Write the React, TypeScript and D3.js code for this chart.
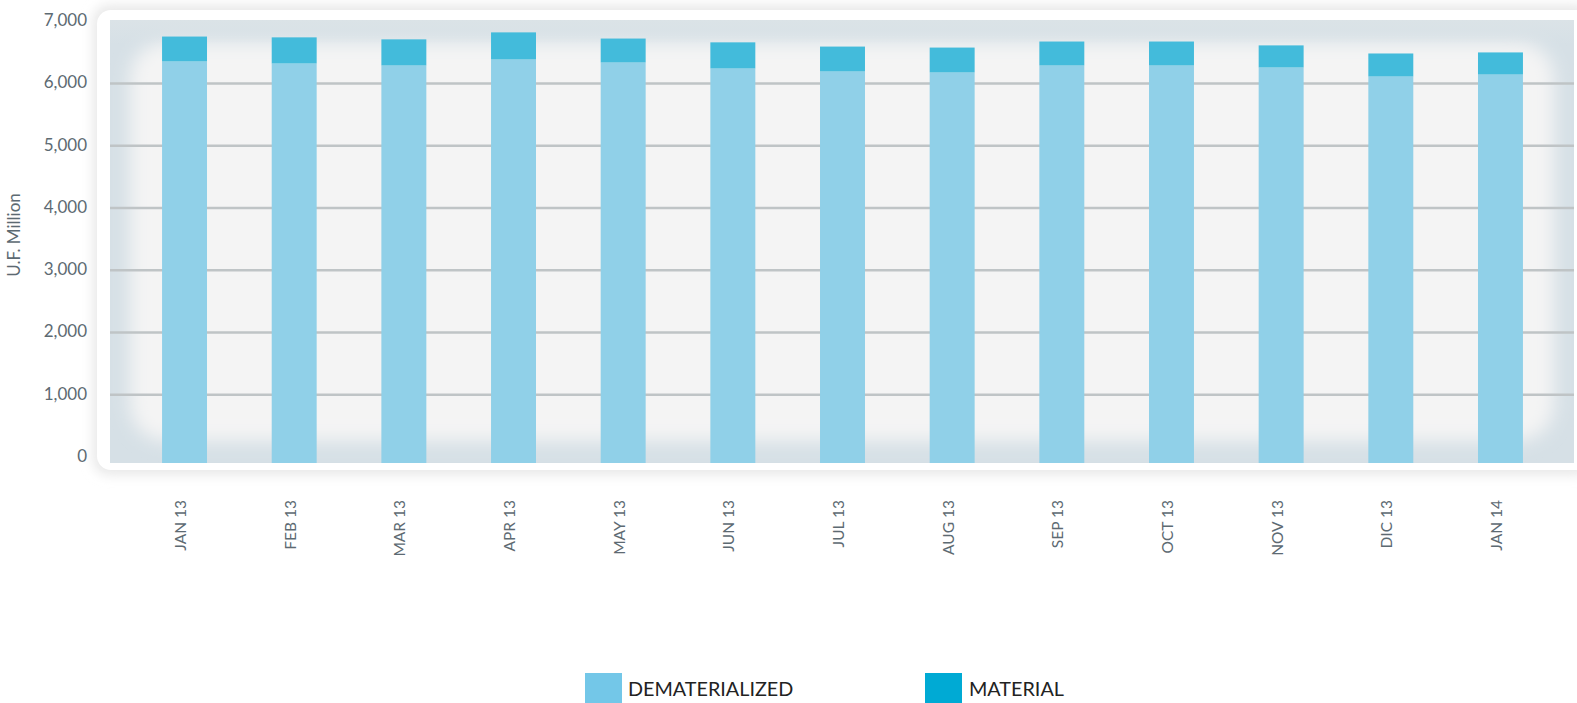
import React from 'react';
import * as d3 from 'd3';

// Months on the x axis
const MONTHS = ['JAN 13', 'FEB 13', 'MAR 13', 'APR 13', 'MAY 13', 'JUN 13', 'JUL 13',
  'AUG 13', 'SEP 13', 'OCT 13', 'NOV 13', 'DIC 13', 'JAN 14'];

// U.F. million
const DEMATERIALIZED = [6355, 6322, 6290, 6387, 6338, 6242, 6194, 6178, 6290, 6290, 6258, 6113, 6145];
const MATERIAL = [400, 420, 420, 435, 385, 420, 400, 400, 385, 385, 355, 370, 355];

const Y_TICKS = [0, 1000, 2000, 3000, 4000, 5000, 6000, 7000];
const LEGEND = ['DEMATERIALIZED', 'MATERIAL'];

const W = 1577;
const H = 703;
const FONT = 'Lato, "Open Sans", sans-serif';

const plot = { left: 110, top: 20, right: 1574, bottom: 463 };

export default function App() {
  const x = d3.scaleBand<string>()
    .domain(MONTHS)
    .range([129.7, 1555.3])
    .paddingInner(0.59)
    .paddingOuter(0.295);

  const y = d3.scaleLinear()
    .domain([0, 7000])
    .range([457, 21.3]);

  const fmt = d3.format(',');

  return (
    <svg width={W} height={H} style={{ position: 'absolute', left: 0, top: 0, background: '#fff' }}>
      <defs>
        <filter id="cardShadow" x="-5%" y="-10%" width="110%" height="120%">
          <feGaussianBlur stdDeviation="6" />
        </filter>
        <filter id="soft" x="-10%" y="-20%" width="120%" height="140%">
          <feGaussianBlur stdDeviation="9" />
        </filter>
        <linearGradient id="topFade" x1="0" y1="0" x2="0" y2="1">
          <stop offset="0%" stopColor="#dbe3e7" />
          <stop offset="100%" stopColor="#dbe3e7" stopOpacity="0" />
        </linearGradient>
        <clipPath id="plotClip">
          <rect x={plot.left} y={plot.top} width={plot.right - plot.left} height={plot.bottom - plot.top} />
        </clipPath>
      </defs>

      {/* card with soft shadow */}
      <rect x={93} y={5} width={1500} height={470} rx={16} fill="#e8e8e8" filter="url(#cardShadow)" />
      <rect x={97} y={10} width={1500} height={460} rx={14} fill="#ffffff" />

      {/* plot background: bluish edges, light centre */}
      <g clipPath="url(#plotClip)">
        <rect x={plot.left} y={plot.top} width={plot.right - plot.left} height={plot.bottom - plot.top} fill="#d6e0e6" />
        <rect x={plot.left + 20} y={plot.top + 22} width={plot.right - plot.left - 40}
          height={plot.bottom - plot.top - 44} rx={36} fill="#f4f4f4" filter="url(#soft)" />
        <rect x={plot.left} y={plot.top} width={plot.right - plot.left} height={24} fill="url(#topFade)" />
      </g>

      {/* grid lines */}
      {Y_TICKS.filter(t => t > 0 && t < 7000).map(t => (
        <line key={t} x1={plot.left} x2={plot.right} y1={y(t)} y2={y(t)}
          stroke="#bfc4c6" strokeWidth={2.6} />
      ))}

      {/* stacked bars */}
      {MONTHS.map((m, i) => {
        const bx = x(m) ?? 0;
        const bw = x.bandwidth();
        const dTop = y(DEMATERIALIZED[i]);
        const mTop = y(DEMATERIALIZED[i] + MATERIAL[i]);
        return (
          <g key={m}>
            <rect x={bx} y={dTop} width={bw} height={plot.bottom - dTop} fill="#90d0e8" />
            <rect x={bx} y={mTop} width={bw} height={dTop - mTop} fill="#43bbdb" />
          </g>
        );
      })}

      {/* y axis labels */}
      {Y_TICKS.map(t => (
        <text key={t} x={87} y={y(t) - 1} dy="0.35em" textAnchor="end"
          fontFamily={FONT} fontSize={17} fill="#5d6a72">{fmt(t)}</text>
      ))}
      <text transform={`translate(20,${235}) rotate(-90)`} textAnchor="middle"
        fontFamily={FONT} fontSize={17} fill="#5d6a72">U.F. Million</text>

      {/* x axis labels */}
      {MONTHS.map(m => (
        <text key={m} transform={`translate(${(x(m) ?? 0) + x.bandwidth() / 2 - 4},500) rotate(-90)`}
          textAnchor="end" dy="0.35em" fontFamily={FONT} fontSize={15.5} fill="#5d6a72">{m}</text>
      ))}

      {/* legend */}
      <rect x={585} y={673} width={37} height={30} fill="#73c7e8" />
      <text x={628} y={696} fontFamily={FONT} fontSize={19.8} fill="#222">{LEGEND[0]}</text>
      <rect x={925} y={673} width={37} height={30} fill="#00aad4" />
      <text x={969} y={696} fontFamily={FONT} fontSize={19.8} fill="#222">{LEGEND[1]}</text>
    </svg>
  );
}
